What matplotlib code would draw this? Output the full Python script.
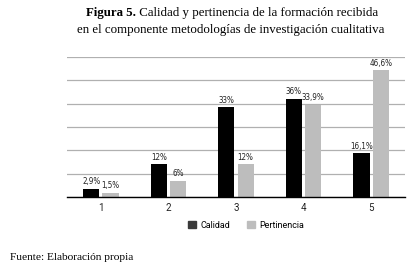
import matplotlib

matplotlib.use("Agg")
import matplotlib.pyplot as plt  # noqa: E402
import numpy as np  # noqa: E402

categories = ["1", "2", "3", "4", "5"]
calidad = [2.9, 12, 33, 36, 16.1]
pertinencia = [1.5, 6, 12, 33.9, 46.6]
calidad_labels = ["2,9%", "12%", "33%", "36%", "16,1%"]
pertinencia_labels = ["1,5%", "6%", "12%", "33,9%", "46,6%"]

W, H = 409, 277
fig = plt.figure(figsize=(W / 100, H / 100), dpi=100)
ax = fig.add_axes([67 / W, 1 - 197 / H, (405 - 67) / W, 140 / H])

x = np.arange(len(categories))
bw = 0.24
gap = 0.045
ax.bar(x - (bw + gap) / 2, calidad, bw, color="black", label="Calidad", zorder=3)
ax.bar(x + (bw + gap) / 2, pertinencia, bw, color="#bdbdbd", label="Pertinencia", zorder=3)

lab_font = dict(family="DejaVu Sans", fontsize=5.8, fontstretch="condensed", color="#222222")
for xi, v, t in zip(x, calidad, calidad_labels):
    ax.text(xi - (bw + gap) / 2, v + 1.0, t, ha="center", va="bottom", **lab_font)
for xi, v, t in zip(x, pertinencia, pertinencia_labels):
    ax.text(xi + (bw + gap) / 2, v + 1.0, t, ha="center", va="bottom", **lab_font)

ymax = 51.5
ax.set_xlim(-0.5, 4.5)
ax.set_ylim(0, ymax)
ax.set_yticks(np.linspace(0, ymax, 7))
ax.yaxis.grid(True, color="#b0b0b0", linewidth=0.9, zorder=0)
ax.set_yticklabels([])
ax.tick_params(axis="y", length=0)
ax.tick_params(axis="x", length=0, pad=4, labelsize=7, labelcolor="#222222")
ax.set_xticks(x)
ax.set_xticklabels(categories, family="Roboto")
for s in ("top", "left", "right"):
    ax.spines[s].set_visible(False)
ax.spines["bottom"].set_linewidth(1.0)
ax.spines["bottom"].set_zorder(4)

leg = fig.legend(
    handles=[
        plt.Rectangle((0, 0), 1, 1, color="#3a3a3a"),
        plt.Rectangle((0, 0), 1, 1, color="#bdbdbd"),
    ],
    labels=["Calidad", "Pertinencia"],
    loc="center",
    bbox_to_anchor=(246 / W, 1 - 225 / H),
    ncol=2,
    frameon=False,
    prop={"family": "Roboto", "size": 6.5},
    handlelength=0.9,
    handleheight=0.9,
    handletextpad=0.5,
    columnspacing=1.8,
)

serif = "Liberation Serif"
fs = 9.3
fig.canvas.draw()
r = fig.canvas.get_renderer()
t1 = fig.text(0, 1 - 13 / H, "Figura 5.", family=serif, fontweight="bold", fontsize=fs, va="center")
t2 = fig.text(0, 1 - 13 / H, " Calidad y pertinencia de la formación recibida", family=serif, fontsize=fs, va="center")
w1 = t1.get_window_extent(r).width
w2 = t2.get_window_extent(r).width
x0 = 232 - (w1 + w2) / 2
t1.set_x(x0 / W)
t2.set_x((x0 + w1) / W)
fig.text(231 / W, 1 - 30 / H, "en el componente metodologías de investigación cualitativa",
         family=serif, fontsize=fs, ha="center", va="center")

fig.text(10 / W, 1 - 257 / H, "Fuente: Elaboración propia", family=serif, fontsize=8.2, va="center")

fig.savefig("out.png", dpi=100)
